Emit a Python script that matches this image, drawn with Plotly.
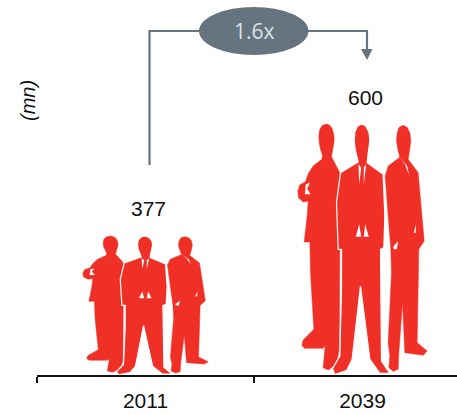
import plotly.graph_objects as go

categories = ["2011", "2039"]
values = [377, 600]
multiple_label = "1.6x"
unit_label = "(mn)"

W, H = 457, 414
ML, MB = 37, 39
AXIS_Y = H - MB
CAT_PX = 217
Y_BASE = 100
PX_PER_UNIT = 0.502
RED = "#F03027"
SLATE = "#66747F"
FONT = "Liberation Sans"

# Pictogram outline, in template units (baseline 777, top 24, centre x 218)
LEFT = [(110,24),(98,28),(90,40),(87,58),(88,80),(92,100),(98,118),(96,130),(70,150),(56,172),(46,198),(30,206),(24,225),(26,245),(40,258),(55,256),(52,300),(43,378),(60,378),(62,470),(72,640),(40,672),(36,688),(44,697),(100,697),(106,690),(100,755),(115,762),(140,745),(148,700),(150,400),(150,170),(125,122),(129,100),(133,75),(132,55),(127,38),(120,28)]
RIGHT = [(340,28),(328,34),(322,50),(320,75),(324,100),(330,124),(295,150),(286,180),(295,300),(303,400),(305,470),(295,680),(300,720),(297,755),(310,766),(325,760),(327,710),(338,560),(345,710),(400,718),(412,705),(382,680),(387,400),(403,375),(385,170),(355,130),(359,105),(363,75),(360,50),(352,34)]
CENTER = [(215,24),(203,30),(195,48),(193,75),(196,100),(202,122),(205,138),(152,170),(140,260),(145,400),(155,400),(155,520),(150,720),(128,758),(135,776),(170,764),(187,730),(212,510),(238,710),(240,730),(270,772),(300,772),(275,735),(272,400),(282,395),(285,300),(280,175),(232,140),(236,105),(240,75),(238,50),(228,30)]
GAPS = [
    [(48,205),(60,200),(52,218),(62,235),(45,235)],
    [(206,145),(208,205),(214,155)],
    [(222,155),(222,205),(229,145)],
    [(198,362),(208,325),(214,362)],
    [(222,362),(226,325),(237,362)],
    [(330,125),(352,150),(358,178),(345,145)],
    [(372,350),(378,325),(378,350)],
    [(310,392),(325,375),(321,400),(312,400)],
]
BODY_LINES = [(LEFT, 0), (RIGHT, 0), (CENTER, 1.2)]
WIDTH_FACTOR = [0.97, 1.0]


def scaled(poly, i):
    """Map template outline onto the axes for category i and its value."""
    xs, ys = [], []
    for tx, ty in poly + poly[:1]:
        xs.append(i + (tx - 218) * WIDTH_FACTOR[i] / 3 / CAT_PX)
        ys.append(Y_BASE + (values[i] - Y_BASE) * (777 - ty) / (777 - 24))
    return xs, ys


fig = go.Figure()
for i in range(len(categories)):
    for poly, lw in BODY_LINES:
        x, y = scaled(poly, i)
        fig.add_trace(go.Scatter(x=x, y=y, mode="lines", fill="toself", fillcolor=RED,
                                 line=dict(color="white" if lw else RED, width=lw or 0.5, shape="linear"),
                                 hoverinfo="skip", showlegend=False))
    for poly in GAPS:
        x, y = scaled(poly, i)
        fig.add_trace(go.Scatter(x=x, y=y, mode="lines", fill="toself", fillcolor="white",
                                 line=dict(color="white", width=0),
                                 hoverinfo="skip", showlegend=False))

annotations = []
for i, v in enumerate(values):
    annotations.append(dict(x=i, y=v, xref="x", yref="y", text=str(v), showarrow=False,
                            xanchor="center", yanchor="middle",
                            xshift=3, yshift=27, font=dict(family=FONT, size=21, color="#111111")))


def px(x):
    return (x - ML) / (W - ML)


def py(y):
    return (AXIS_Y - y) / AXIS_Y


annotations.append(dict(x=px(254), y=py(31), xref="paper", yref="paper", text=multiple_label,
                        showarrow=False, xanchor="center", yanchor="middle",
                        font=dict(family="Open Sans", size=21, color="#DDE2E5")))
annotations.append(dict(x=px(28), y=py(101), xref="paper", yref="paper", text="<i>" + unit_label + "</i>",
                        showarrow=False, textangle=-90, xanchor="center", yanchor="middle",
                        font=dict(family=FONT, size=20, color="#111111")))

conn = f"M {px(149.5)} {py(165)} L {px(149.5)} {py(31)} L {px(367)} {py(31)} L {px(367)} {py(50)}"
head = f"M {px(361)} {py(49)} L {px(372.5)} {py(49)} L {px(367)} {py(60)} Z"
shapes = [
    dict(type="path", path=conn, xref="paper", yref="paper", line=dict(color=SLATE, width=2.2)),
    dict(type="path", path=head, xref="paper", yref="paper", fillcolor=SLATE, line=dict(width=0)),
    dict(type="circle", xref="paper", yref="paper", x0=px(199), x1=px(308.5), y0=py(55), y1=py(7),
         fillcolor=SLATE, line=dict(width=0)),
]

fig.update_layout(
    width=W, height=H, margin=dict(l=ML, r=0, t=0, b=MB, pad=0),
    paper_bgcolor="white", plot_bgcolor="white", showlegend=False,
    annotations=annotations, shapes=shapes,
    xaxis=dict(range=[-0.5, -0.5 + (W - ML) / CAT_PX], tickmode="array", tickvals=[0, 1], ticktext=categories,
               ticks="", ticklabelstandoff=6, showgrid=False, zeroline=False, showline=True,
               linecolor="#111111", linewidth=2,
               tickfont=dict(family=FONT, size=21, color="#111111"),
               minor=dict(tickmode="array", tickvals=[-0.5, 0.5], ticks="outside", ticklen=6, tickwidth=2,
                          tickcolor="#111111", showgrid=False)),
    yaxis=dict(range=[Y_BASE, Y_BASE + AXIS_Y / PX_PER_UNIT], visible=False),
)
fig.write_html("out.html", config=dict(displayModeBar=False),
               post_script="document.body.style.margin='0';document.body.style.overflow='hidden';")
